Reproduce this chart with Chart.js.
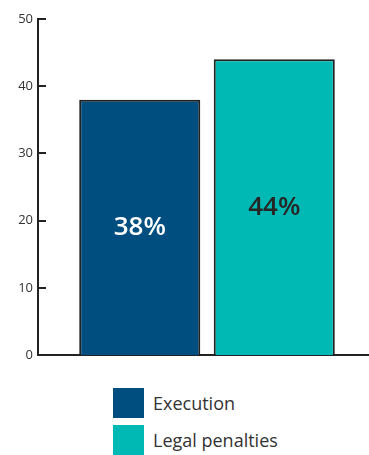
<!DOCTYPE html>
<html>
<head>
<meta charset="utf-8">
<script src="https://cdn.jsdelivr.net/npm/chart.js@4/dist/chart.umd.min.js"></script>
<style>
  html, body { margin: 0; padding: 0; background: #fff; overflow: hidden; }
  body { width: 369px; height: 455px; position: relative; font-family: 'Open Sans', sans-serif; }
  #wrap { position: absolute; left: 0; top: 0; width: 376px; height: 368px; }
  #legend { position: absolute; left: 113px; top: 388px; margin: 0; padding: 0; list-style: none; }
  #legend li { display: flex; align-items: center; height: 30px; margin-bottom: 7px; }
  #legend .box { width: 31px; height: 30px; margin-right: 9px; }
  #legend .txt { font-size: 18px; color: #333; line-height: 30px; }
</style>
</head>
<body>
<div id="wrap"><canvas id="chart" width="376" height="368"></canvas></div>
<ul id="legend"></ul>
<script>
// Share of responses per series
const seriesNames = ['Execution', 'Legal penalties'];
const seriesValues = [38, 44];
const valueLabels = ['38%', '44%'];
const yTicks = [0, 10, 20, 30, 40, 50];

const fillColors = ['#004e80', '#00b9b4'];
const labelColors = ['#ffffff', '#262626'];
const inkColor = '#222222';

Chart.defaults.font.family = "'Open Sans', sans-serif";

// Short tick marks that point into the plot from the y axis
const innerTicks = {
  id: 'innerTicks',
  afterDraw(chart) {
    const y = chart.scales.y;
    const ctx = chart.ctx;
    ctx.save();
    ctx.strokeStyle = inkColor;
    ctx.lineWidth = 2;
    y.ticks.forEach(t => {
      const py = Math.round(y.getPixelForValue(t.value));
      ctx.beginPath();
      ctx.moveTo(y.right - 1, py);
      ctx.lineTo(y.right + 8, py);
      ctx.stroke();
    });
    ctx.restore();
  }
};

// Percentage written in the middle of each bar
const barValues = {
  id: 'barValues',
  afterDatasetsDraw(chart) {
    const ctx = chart.ctx;
    ctx.save();
    ctx.font = "600 26px 'Open Sans', sans-serif";
    ctx.textAlign = 'center';
    ctx.textBaseline = 'middle';
    chart.data.datasets.forEach((ds, i) => {
      const bar = chart.getDatasetMeta(i).data[0];
      ctx.fillStyle = labelColors[i];
      ctx.fillText(valueLabels[i], bar.x, (bar.y + bar.base) / 2);
    });
    ctx.restore();
  }
};

// Legend rendered as a list under the canvas
const htmlLegend = {
  id: 'htmlLegend',
  afterUpdate(chart) {
    const ul = document.getElementById('legend');
    ul.innerHTML = '';
    chart.data.datasets.forEach(ds => {
      const li = document.createElement('li');
      const box = document.createElement('span');
      box.className = 'box';
      box.style.background = ds.backgroundColor;
      const txt = document.createElement('span');
      txt.className = 'txt';
      txt.textContent = ds.label;
      li.appendChild(box);
      li.appendChild(txt);
      ul.appendChild(li);
    });
  }
};

new Chart(document.getElementById('chart'), {
  type: 'bar',
  data: {
    labels: [''],
    datasets: seriesNames.map((name, i) => ({
      label: name,
      data: [seriesValues[i]],
      backgroundColor: fillColors[i],
      borderColor: inkColor,
      borderWidth: 2,
      categoryPercentage: 0.796,
      barPercentage: 0.9
    }))
  },
  options: {
    responsive: false,
    animation: false,
    layout: { padding: { top: 19, bottom: 6, left: 0, right: 0 } },
    plugins: {
      legend: { display: false },
      tooltip: { enabled: false }
    },
    scales: {
      x: {
        grid: { display: false, drawTicks: false },
        border: { display: true, color: inkColor, width: 2 },
        ticks: { display: false },
        afterFit(s) { s.height = 0; }
      },
      y: {
        min: 0,
        max: 50,
        afterBuildTicks(s) { s.ticks = yTicks.map(v => ({ value: v })); },
        grid: { display: false, drawTicks: false },
        border: { display: true, color: inkColor, width: 2 },
        ticks: { color: '#333', font: { size: 13 }, padding: 5 },
        afterFit(s) { s.width = 38; }
      }
    }
  },
  plugins: [innerTicks, barValues, htmlLegend]
});
</script>
</body>
</html>
